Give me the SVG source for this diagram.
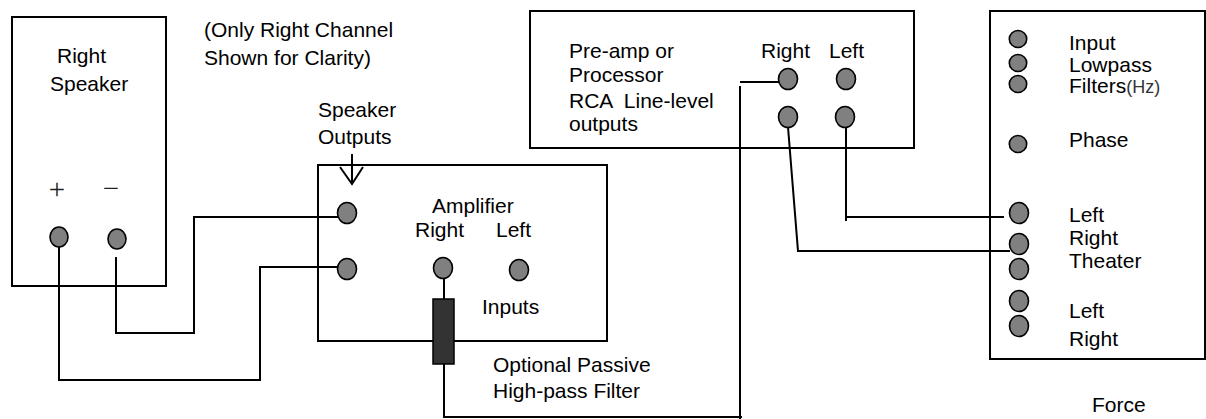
<svg xmlns="http://www.w3.org/2000/svg" width="1206" height="419" viewBox="0 0 1206 419">
<style>
.box{fill:#fff;stroke:#000;stroke-width:2}
.jack{fill:#808080;stroke:#000;stroke-width:1.6}
.wire{fill:none;stroke:#000;stroke-width:2}
text{font-family:"Liberation Sans",Arial,sans-serif;font-size:21px;fill:#000}
.sign{font-family:"Liberation Serif","Times New Roman",serif;font-size:29px;fill:#222;text-anchor:middle}
.pre{white-space:pre}
</style>
<rect width="1206" height="419" fill="#fff"/>
<g id="speaker">
<rect class="box" x="12" y="17" width="154" height="269"/>
<text x="57" y="63">Right</text>
<text x="50" y="91">Speaker</text>
<text class="sign" x="57" y="199">+</text>
<text class="sign" x="111" y="198">−</text>
<ellipse class="jack" cx="59" cy="237" rx="9" ry="10" stroke-width="2"/>
<ellipse class="jack" cx="117" cy="239" rx="9" ry="10" stroke="#333" stroke-width="2"/>
</g>
<g id="note">
<text x="204" y="37">(Only Right Channel</text>
<text x="204" y="65">Shown for Clarity)</text>
</g>
<g id="amplifier">
<rect class="box" x="318" y="165" width="289" height="176"/>
<text x="318" y="117">Speaker</text>
<text x="318" y="144">Outputs</text>
<text x="432" y="213">Amplifier</text>
<text x="415" y="237">Right</text>
<text x="496" y="237">Left</text>
<text x="482" y="314">Inputs</text>
<ellipse class="jack" cx="347" cy="213" rx="9.5" ry="10.5"/>
<ellipse class="jack" cx="347" cy="269" rx="9.5" ry="10.5"/>
<ellipse class="jack" cx="443" cy="268" rx="9.5" ry="10.5"/>
<ellipse class="jack" cx="519" cy="270" rx="9.5" ry="10.5"/>
</g>
<g id="filter">
<rect x="433" y="299" width="21" height="65" fill="#333" stroke="#000" stroke-width="1.5"/>
<text x="493" y="372">Optional Passive</text>
<text x="493" y="398">High-pass Filter</text>
</g>
<g id="preamp">
<rect class="box" x="530" y="11" width="384" height="137"/>
<text x="569" y="58">Pre-amp or</text>
<text x="569" y="82">Processor</text>
<text class="pre" x="569" y="108">RCA  Line-level</text>
<text x="569" y="131">outputs</text>
<text x="761" y="58">Right</text>
<text x="829" y="58">Left</text>
<ellipse class="jack" cx="788" cy="79" rx="9.5" ry="10.5"/>
<ellipse class="jack" cx="846" cy="79" rx="9.5" ry="10.5"/>
<ellipse class="jack" cx="788" cy="117" rx="9.5" ry="10.5"/>
<ellipse class="jack" cx="845" cy="117" rx="9.5" ry="10.5"/>
</g>
<g id="force">
<rect class="box" x="990" y="11" width="215" height="348"/>
<ellipse class="jack" cx="1018" cy="39" rx="8.7" ry="8.5"/>
<ellipse class="jack" cx="1018" cy="63" rx="8.7" ry="8.5"/>
<ellipse class="jack" cx="1018" cy="84" rx="8.7" ry="8.5"/>
<ellipse class="jack" cx="1018" cy="144" rx="8.7" ry="8.5"/>
<ellipse class="jack" cx="1019" cy="213" rx="9.5" ry="10.5"/>
<ellipse class="jack" cx="1019" cy="244" rx="9.5" ry="10.5"/>
<ellipse class="jack" cx="1019" cy="269" rx="9.5" ry="10.5"/>
<ellipse class="jack" cx="1019" cy="301" rx="9.5" ry="10.5"/>
<ellipse class="jack" cx="1019" cy="326" rx="9.5" ry="10.5"/>
<text x="1069" y="50">Input</text>
<text x="1069" y="72">Lowpass</text>
<text x="1069" y="93">Filters<tspan style="font-size:18px;fill:#333">(Hz)</tspan></text>
<text x="1069" y="147">Phase</text>
<text x="1069" y="222">Left</text>
<text x="1069" y="245">Right</text>
<text x="1069" y="268">Theater</text>
<text x="1069" y="318">Left</text>
<text x="1069" y="346">Right</text>
<text x="1092" y="412">Force</text>
</g>
<g id="connectors">
<polyline class="wire" points="116,257 116,333 194,333 194,217 338,217"/>
<polyline class="wire" points="59,247 59,380 260,380 260,267 338,267"/>
<line class="wire" x1="352" y1="154" x2="352" y2="184"/>
<polyline class="wire" points="340,167 352,184 363,167"/>
<line class="wire" x1="444" y1="279" x2="444" y2="299"/>
<polyline class="wire" points="444,364 444,417 742,417"/>
<line class="wire" x1="740" y1="419" x2="740" y2="86"/>
<line class="wire" x1="740" y1="82" x2="779" y2="82"/>
<polyline class="wire" points="788,127 798,251 1010,251"/>
<line class="wire" x1="846" y1="127" x2="846" y2="221"/>
<line class="wire" x1="846" y1="217" x2="1004" y2="217"/>
</g>
</svg>
